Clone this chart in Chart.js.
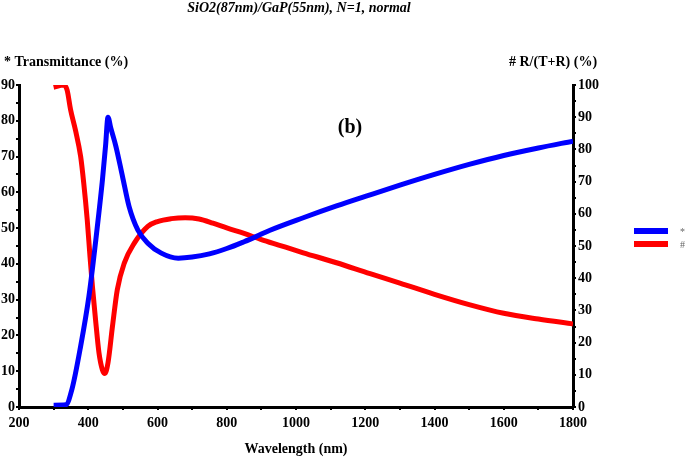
<!DOCTYPE html>
<html>
<head>
<meta charset="utf-8">
<script src="https://cdn.jsdelivr.net/npm/chart.js@4.4.0/dist/chart.umd.min.js"></script>
<style>
  html, body { margin: 0; padding: 0; background: #fff; }
  canvas { display: block; }
</style>
</head>
<body>
<canvas id="chart" width="685" height="461"></canvas>
<script>
// --- data ---
const tWave = [300, 335, 353, 378, 402, 421, 441, 450, 457, 465, 480, 499, 518, 543, 572, 611, 660, 700, 750, 800, 850, 886, 925, 1021, 1117, 1214, 1300, 1400, 1500, 1600, 1700, 1800];
const tValues = [0.5, 0.6, 5, 17, 31, 46, 63.5, 73, 81, 78, 72.8, 64.4, 56, 49.5, 45.8, 43, 41.6, 41.9, 42.8, 44.3, 46.2, 47.7, 49.4, 52.9, 56.2, 59.3, 62.0, 65.0, 67.8, 70.3, 72.4, 74.3];

const rWave = [300, 329, 339, 349, 363, 378, 387, 397, 405, 412, 421, 431, 441, 448, 457, 470, 484, 504, 533, 572, 600, 640, 680, 720, 760, 800, 850, 900, 950, 1021, 1117, 1214, 1300, 1400, 1500, 1600, 1700, 1800];
const rValues = [99.3, 100, 98.4, 92.3, 86, 77.8, 69.5, 58.2, 46.8, 37.5, 27.2, 16.8, 11.5, 10.4, 13.7, 25.1, 36.5, 44.7, 50.9, 56.1, 57.6, 58.5, 58.8, 58.4, 57.1, 55.6, 53.9, 52.0, 50.3, 47.9, 44.8, 41.4, 38.5, 35.0, 31.8, 29.1, 27.3, 25.8];

const seriesLabels = ['*', '#'];
const seriesColors = ['#0000ff', '#ff0000'];

const xTicks = { min: 200, max: 1800, step: 100, labelEvery: 200 };
const leftTicks = { min: 0, max: 90, step: 5, labelEvery: 10 };
const rightTicks = { min: 0, max: 100, step: 5, labelEvery: 10 };

const serif = "'Liberation Serif', 'Times New Roman', serif";
const tickFont = { family: serif, size: 14, weight: 'bold' };

function toPoints(xs, ys) {
    return xs.map((x, i) => ({ x: x, y: ys[i] }));
}

function axisStyle() {
    return {
        grid: { drawOnChartArea: false, drawTicks: true, tickLength: 3, color: '#000', lineWidth: 2 },
        border: { display: true, color: '#000', width: 3 }
    };
}

// texts around the plot (title, axis headings, panel mark) and the legend
const annotations = {
    id: 'annotations',
    afterDraw(chart) {
        const ctx = chart.ctx;
        ctx.save();
        ctx.fillStyle = '#000';
        ctx.textBaseline = 'middle';

        ctx.font = `italic bold 14px ${serif}`;
        ctx.textAlign = 'center';
        ctx.fillText('SiO2(87nm)/GaP(55nm), N=1, normal', 299, 8);

        ctx.font = `bold 14px ${serif}`;
        ctx.textAlign = 'left';
        ctx.fillText('* Transmittance (%)', 4, 62);
        ctx.fillText('# R/(T+R) (%)', 509, 62);

        ctx.font = `bold 20px ${serif}`;
        ctx.textAlign = 'center';
        ctx.fillText('(b)', 350, 128);

        // legend
        ctx.font = `10px ${serif}`;
        ctx.textAlign = 'left';
        chart.data.datasets.forEach((ds, i) => {
            const y = 231 + i * 13;
            ctx.fillStyle = ds.borderColor;
            ctx.fillRect(634, y - 3, 34, 6);
            ctx.fillStyle = '#666';
            ctx.fillText(ds.label, 680, y + 1);
        });
        ctx.restore();
    }
};

new Chart(document.getElementById('chart'), {
    type: 'line',
    data: {
        datasets: [
            {
                label: seriesLabels[0],
                data: toPoints(tWave, tValues),
                borderColor: seriesColors[0],
                backgroundColor: seriesColors[0],
                borderWidth: 5,
                pointRadius: 0,
                cubicInterpolationMode: 'monotone',
                yAxisID: 'yT'
            },
            {
                label: seriesLabels[1],
                data: toPoints(rWave, rValues),
                borderColor: seriesColors[1],
                backgroundColor: seriesColors[1],
                borderWidth: 5,
                pointRadius: 0,
                cubicInterpolationMode: 'monotone',
                yAxisID: 'yR'
            }
        ]
    },
    options: {
        responsive: false,
        animation: false,
        devicePixelRatio: 1,
        layout: { padding: { top: 85, left: 0, right: 0, bottom: 0 } },
        plugins: {
            legend: { display: false },
            title: { display: false },
            tooltip: { enabled: false }
        },
        scales: {
            x: {
                type: 'linear',
                min: xTicks.min,
                max: xTicks.max,
                ...axisStyle(),
                ticks: {
                    stepSize: xTicks.step,
                    autoSkip: false,
                    maxRotation: 0,
                    padding: 5,
                    color: '#000',
                    font: tickFont,
                    callback: v => (v % xTicks.labelEvery === 0 ? v : '')
                },
                title: {
                    display: true,
                    text: 'Wavelength (nm)',
                    color: '#000',
                    font: { family: serif, size: 14, weight: 'bold' },
                    padding: { top: 0, bottom: 3 }
                },
                afterFit: scale => { scale.height = 54; }
            },
            yT: {
                type: 'linear',
                position: 'left',
                min: leftTicks.min,
                max: leftTicks.max,
                ...axisStyle(),
                ticks: {
                    stepSize: leftTicks.step,
                    autoSkip: false,
                    padding: 1,
                    color: '#000',
                    font: tickFont,
                    callback: v => (v % leftTicks.labelEvery === 0 ? v : '')
                },
                afterFit: scale => { scale.width = 19; }
            },
            yR: {
                type: 'linear',
                position: 'right',
                min: rightTicks.min,
                max: rightTicks.max,
                ...axisStyle(),
                ticks: {
                    stepSize: rightTicks.step,
                    autoSkip: false,
                    padding: 2,
                    color: '#000',
                    font: tickFont,
                    callback: v => (v % rightTicks.labelEvery === 0 ? v : '')
                },
                afterFit: scale => { scale.width = 112; }
            }
        }
    },
    plugins: [annotations]
});
</script>
</body>
</html>
